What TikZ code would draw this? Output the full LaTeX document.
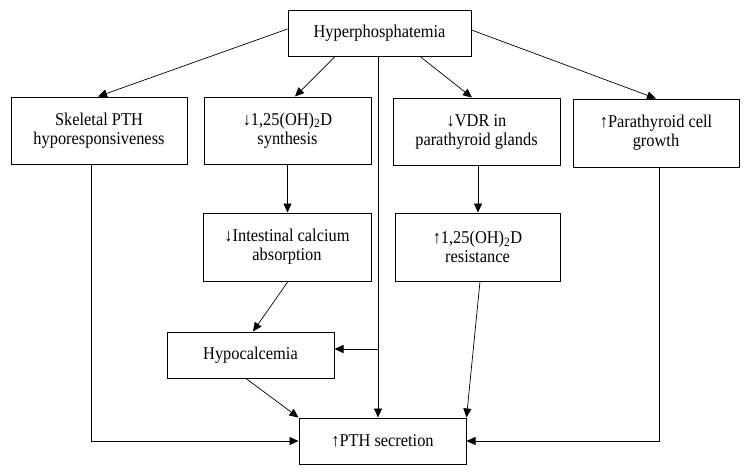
\documentclass[tikz,border=0pt]{standalone}
\usepackage{fontspec}
\setmainfont{Liberation Serif}[FakeStretch=0.91]
\usetikzlibrary{arrows.meta,calc}
\tikzset{
  box/.style={draw, line width=1pt, align=center, inner sep=0pt,
    font=\fontsize{18}{19}\selectfont},
  conn/.style={line width=0.7pt, -{Triangle[length=9pt,width=8pt]}},
  plain/.style={line width=0.7pt}
}
\begin{document}
\begin{tikzpicture}[x=1pt,y=-1pt]
\useasboundingbox (0,0) rectangle (750,475);
\node[box, minimum width=183pt, minimum height=46pt] (hyper) at (379.5,33) {Hyperphosphatemia};
\node[box, minimum width=176pt, minimum height=67pt] (skel) at (99,130.5) {Skeletal PTH\\hyporesponsiveness};
\node[box, minimum width=167pt, minimum height=67pt] (syn) at (287.5,130.5) {↓1,25(OH)\textsubscript{2}D\\synthesis};
\node[box, minimum width=167pt, minimum height=67pt] (vdr) at (476.5,131.5) {↓VDR in\\parathyroid glands};
\node[box, minimum width=166pt, minimum height=68pt] (para) at (656,133) {↑Parathyroid cell\\growth};
\node[box, minimum width=168pt, minimum height=68pt] (intest) at (287,247) {↓Intestinal calcium\\absorption};
\node[box, minimum width=165pt, minimum height=68pt] (resist) at (477.5,247) {↑1,25(OH)\textsubscript{2}D\\resistance};
\node[box, minimum width=167pt, minimum height=46pt] (hypoc) at (250.5,355) {Hypocalcemia};
\node[box, minimum width=167pt, minimum height=46pt] (pts) at (382.5,441) {↑PTH secretion};

% from hyperphosphatemia
\draw[conn] ([yshift=4pt]hyper.west) -- ([xshift=-1pt]skel.north);
\draw[conn] ([xshift=-44.5pt]hyper.south) -- ([xshift=7.5pt]syn.north);
\draw[conn] ([xshift=40.5pt]hyper.south) -- ([xshift=-4.5pt]vdr.north);
\draw[conn] ([yshift=3pt]hyper.east) -- (para.north);
\coordinate (vtop) at ([xshift=-1.5pt]hyper.south);
\coordinate (br) at ([yshift=6pt]vtop |- hypoc.east);
\draw[conn] (vtop) -- (vtop |- pts.north);
\draw[conn] (br) -- ([yshift=6pt]hypoc.east);

% middle column
\draw[conn] (syn.south) -- (syn.south |- intest.north);
\draw[conn] ([xshift=1.5pt]vdr.south) -- ([xshift=1.5pt]vdr.south |- resist.north);
\draw[conn] ([xshift=1pt]intest.south) -- ([xshift=2.5pt]hypoc.north);
\draw[conn] ([xshift=2.5pt]resist.south) -- (pts.north east);
\draw[conn] ([xshift=-4.5pt]hypoc.south) -- (pts.north west);

% side columns
\draw[conn] ([xshift=-8pt]skel.south) |- (pts.west);
\draw[conn] ([xshift=3pt]para.south) |- (pts.east);
\end{tikzpicture}
\end{document}
